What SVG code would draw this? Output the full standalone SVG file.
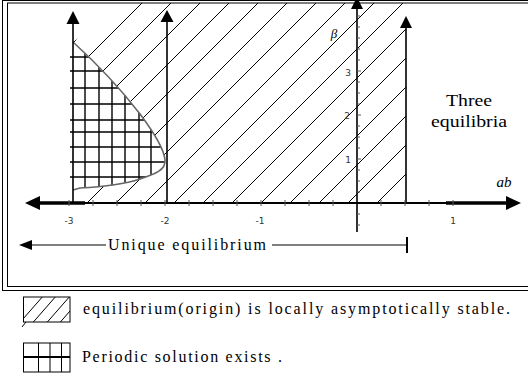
<svg xmlns="http://www.w3.org/2000/svg" width="528" height="378" viewBox="0 0 528 378">
<style>
.serif{font-family:"Liberation Serif","Times New Roman",serif;fill:#000}
.tick{font-family:"DejaVu Sans","Liberation Sans",sans-serif;font-size:9px;fill:#333}
.hl{stroke:#000;stroke-width:1;fill:none}
.gl{stroke:#000;stroke-width:1.4;fill:none}
.ln{stroke:#000;stroke-width:1.6;fill:none}
.mt{stroke:#555;stroke-width:1;fill:none}
</style>
<defs>
<clipPath id="hatchClip"><path d="M73,42 C95,62 120,88 140,114 C152,130 164,148 165,160 C166,170 155,174 140,179 C122,185 100,187 80,188 L73,190 L73,203 L406,203 L406,3 L130,3 Z"/></clipPath>
<clipPath id="gridClip"><path d="M70,42 L73,42 C95,62 120,88 140,114 C152,130 164,148 165,160 C166,170 155,174 140,179 C122,185 100,187 80,188 L73,190 L70,190 Z"/></clipPath>
<clipPath id="legHatch"><rect x="23.5" y="297" width="46.5" height="25"/></clipPath>
</defs>

<g id="frame">
<rect x="2.5" y="0.5" width="540" height="290" fill="none" stroke="#000" stroke-width="1"/>
<rect x="7.5" y="3" width="530" height="283.5" fill="none" stroke="#000" stroke-width="1"/>
</g>

<g id="stable-region" clip-path="url(#hatchClip)">
<path class="hl" d="M370,210L580,0M341,210L551,0M312,210L522,0M283,210L493,0M254,210L464,0M225,210L435,0M196,210L406,0M167,210L377,0M138,210L348,0M109,210L319,0M80,210L290,0M51,210L261,0M22,210L232,0M-7,210L203,0M-36,210L174,0M-65,210L145,0M-94,210L116,0"/>
</g>

<g id="periodic-region">
<g clip-path="url(#gridClip)">
<path class="gl" d="M85,40V192M99,40V192M112,40V192M125,40V192M139,40V192M151,40V192M70,57H170M70,71H170M70,88H170M70,104H170M70,120H170M70,132H170M70,147H170M70,162H170M70,177H170"/>
</g>
<path d="M73,42 C95,62 120,88 140,114 C152,130 164,148 165,160 C166,170 155,174 140,179 C122,185 100,187 80,188 L73,190" fill="none" stroke="#666" stroke-width="1.6"/>
</g>

<g id="axes">
<path class="ln" d="M73,24V203M167,22V203M406,28V203M357,8V232"/>
<polygon points="73,11 66.5,24 79.5,24" fill="#000"/>
<polygon points="167,10 160.5,22 173.5,22" fill="#000"/>
<polygon points="406,16 400,28 412,28" fill="#000"/>
<polygon points="357,-3 351,9 363,9" fill="#000"/>
<path d="M40,203H506" stroke="#000" stroke-width="1.8"/>
<path d="M40,203H85M446,203H506" stroke="#000" stroke-width="3.5"/>
<polygon points="25,203 40,196 40,210" fill="#000"/>
<polygon points="521,203 506,196 506,210" fill="#000"/>
<path class="mt" d="M69,200V206M93,200V206M117,200V206M141,200V206M165,200V206M189,200V206M213,200V206M237,200V206M261,200V206M285,200V206M309,200V206M333,200V206M381,200V206M405,200V206M429,200V206M453,200V206"/>
<path class="mt" d="M357,192H360M357,181H360M357,170H360M357,159H361M357,148H360M357,137H360M357,126H360M357,115H361M357,104H360M357,93H360M357,82H360M357,71H361M357,60H360M357,49H360M357,38H360M357,27H360M357,16H360M357,214H360M357,225H360"/>
</g>

<g id="labels">
<text class="tick" x="69" y="224" text-anchor="middle">-3</text>
<text class="tick" x="165" y="224" text-anchor="middle">-2</text>
<text class="tick" x="260" y="224" text-anchor="middle">-1</text>
<text class="tick" x="453" y="224" text-anchor="middle">1</text>
<text class="tick" x="348" y="76" text-anchor="middle">3</text>
<text class="tick" x="347" y="119" text-anchor="middle">2</text>
<text class="tick" x="348" y="163" text-anchor="middle">1</text>
<text class="serif" x="334" y="38" font-size="13" font-style="italic" text-anchor="middle">β</text>
<text class="serif" x="504" y="187" font-size="15" font-style="italic" text-anchor="middle">ab</text>
<text class="serif" x="469" y="106" font-size="17" text-anchor="middle" textLength="46" lengthAdjust="spacingAndGlyphs">Three</text>
<text class="serif" x="469" y="127" font-size="17" text-anchor="middle" textLength="76" lengthAdjust="spacingAndGlyphs">equilibria</text>
</g>

<g id="unique-range">
<path d="M32,245H106M272,245H407" stroke="#000" stroke-width="1.2"/>
<path d="M407,237V253" stroke="#000" stroke-width="2"/>
<polygon points="19,245 32,240 32,250" fill="#000"/>
<text class="serif" x="108" y="250" font-size="16" textLength="158" lengthAdjust="spacing">Unique equilibrium</text>
</g>

<g id="legend">
<g id="legend-stable">
<rect x="23.5" y="297" width="46.5" height="25" fill="none" stroke="#000" stroke-width="1"/>
<g clip-path="url(#legHatch)">
<path class="hl" d="M16,327L44,295M29,327L57,295M43,327L71,295M56,327L84,295"/>
</g>
<path class="hl" d="M22,327L26,322"/>
<text class="serif" x="83" y="314" font-size="16" textLength="427" lengthAdjust="spacing">equilibrium(origin) is locally asymptotically stable.</text>
</g>
<g id="legend-periodic">
<rect x="23.5" y="343" width="46.5" height="29" fill="none" stroke="#000" stroke-width="1"/>
<path d="M38.5,343V372M50,343V372M61.5,343V372" stroke="#000" stroke-width="1"/>
<path d="M23.5,357H70" stroke="#000" stroke-width="2"/>
<text class="serif" x="82" y="362" font-size="16" textLength="200" lengthAdjust="spacing">Periodic solution exists .</text>
</g>
</g>
</svg>
